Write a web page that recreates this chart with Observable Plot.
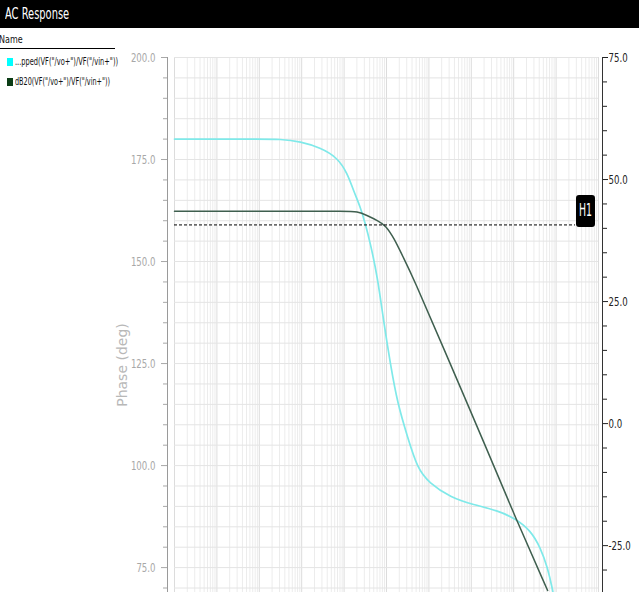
<!DOCTYPE html>
<html><head><meta charset="utf-8">
<script src="https://cdn.jsdelivr.net/npm/d3@7"></script>
<script src="https://cdn.jsdelivr.net/npm/@observablehq/plot@0.6"></script>
<style>
body{margin:0;background:#fff;}
#wrap{position:relative;width:639px;height:592px;overflow:hidden;font-family:"DejaVu Sans",sans-serif;}
#chart{position:absolute;left:0;top:0;}
#title{position:absolute;left:0;top:0;width:639px;height:28px;background:#000;}
#title span{position:absolute;left:5px;top:5px;color:#fff;font-size:15px;line-height:18px;transform-origin:left center;transform:scaleX(0.66);white-space:nowrap;}
#name{position:absolute;left:-1px;top:34px;font-size:10px;line-height:11px;color:#111;transform-origin:left center;transform:scaleX(0.8);}
#rule{position:absolute;left:0;top:48px;width:115px;height:1px;background:#000;}
.leg{position:absolute;left:7px;font-size:10px;line-height:10px;color:#111;white-space:nowrap;}
.leg i{display:inline-block;width:6px;height:8px;vertical-align:-1px;margin-right:2px;}
.leg span{display:inline-block;transform-origin:left center;}
</style>
</head><body>
<div id="wrap">
  <div id="chart"></div>
  <div id="title"><span id="titleText"></span></div>
  <div id="name"></div>
  <div id="rule"></div>
  <div id="legend"></div>
</div>
<script>
// ---- data ----
const titleText = "AC Response";
const legendHeader = "Name";
const seriesNames = ['...pped(VF("/vo+")/VF("/vin+"))', 'dB20(VF("/vo+")/VF("/vin+"))'];
const seriesColors = ["#00ffff", "#0b3d16"];
const yLabel = "Phase (deg)";

// phase curve (left axis, degrees) vs frequency (Hz)
const phaseFreq = [1, 1e1, 1e2, 3.16e2, 9.33e2, 2.75e3, 6.92e3, 1.20e4, 1.66e4, 2.45e4, 3.16e4, 4.17e4, 6.17e4, 8.51e4, 1.23e5, 1.82e5, 3.16e5, 5.37e5, 1.0e6, 3.24e6, 1.12e7, 4.17e7, 1.10e8, 2.51e8, 4.27e8, 6.31e8, 8.32e8, 8.71e8];
const phaseDeg  = [180.0, 180.0, 180.0, 180.0, 179.4, 177.9, 175.5, 171.6, 167.4, 163.2, 159.3, 154.4, 146.1, 135.5, 125.0, 115.2, 106.9, 99.3, 95.8, 92.2, 90.4, 89.0, 87.0, 84.1, 79.9, 75.0, 69.4, 68.1];

// gain curve (right axis, dB) vs frequency (Hz)
const gainFreq = [1, 1e1, 1e2, 1e3, 1e4, 2.09e4, 3.55e4, 6.17e4, 9.55e4, 1.48e5, 2.51e5, 4.37e5, 1.86e6, 2.40e7, 1.10e8, 6.31e8];
const gainDb   = [43.5, 43.5, 43.5, 43.5, 43.5, 43.5, 42.6, 41.6, 40.6, 38.1, 34.0, 29.7, 17.0, -5.5, -19.3, -34.2];

const markerDb = 40.7;
const markerLabel = "H1";

const yDomain = [68.9, 200];     // left axis (deg)
const y2Domain = [-34.6, 75];    // right axis (dB)
const leftMajor = [75, 100, 125, 150, 175, 200];
const rightMajor = [-25, 0, 25, 50, 75];
const xDomain = [1, 1e10];

// ---- derived ----
const leftMinor = d3.range(70, 201, 5).filter(v => !leftMajor.includes(v));
const rightMinor = d3.range(-30, 76, 5).filter(v => !rightMajor.includes(v));
const gridPhase = d3.range(70, 201, 5);
const decades = d3.range(0, 11).map(e => 10 ** e);
const minorFreqs = d3.range(0, 10).flatMap(e => d3.range(2, 10).map(m => m * 10 ** e));
const dbToPhase = d3.scaleLinear().domain(y2Domain).range(yDomain);
const phaseData = phaseFreq.map((f, i) => ({f, v: phaseDeg[i]}));
const gainData = gainFreq.map((f, i) => ({f, v: dbToPhase(gainDb[i])}));
const fmt1 = v => { const r = Math.round(v * 10) / 10; return (r === 0 ? 0 : r).toFixed(1); };

const roundBox = {
  draw(ctx) {
    const w = 19, h = 32, r = 3, x0 = -w / 2, y0 = -h / 2;
    ctx.moveTo(x0 + r, y0);
    ctx.lineTo(x0 + w - r, y0); ctx.arcTo(x0 + w, y0, x0 + w, y0 + r, r);
    ctx.lineTo(x0 + w, y0 + h - r); ctx.arcTo(x0 + w, y0 + h, x0 + w - r, y0 + h, r);
    ctx.lineTo(x0 + r, y0 + h); ctx.arcTo(x0, y0 + h, x0, y0 + h - r, r);
    ctx.lineTo(x0, y0 + r); ctx.arcTo(x0, y0, x0 + r, y0, r);
    ctx.closePath();
  }
};

const chart = Plot.plot({
  width: 639, height: 592,
  marginTop: 57, marginBottom: 0, marginLeft: 167, marginRight: 37,
  style: {fontFamily: "DejaVu Sans", background: "#fff", overflow: "visible"},
  x: {type: "log", domain: xDomain, insetLeft: 7, insetRight: 4, axis: null, label: null},
  y: {domain: yDomain, axis: null, label: null},
  marks: [
    Plot.ruleX(minorFreqs, {stroke: "#ececec", strokeWidth: 1}),
    Plot.ruleX(decades, {stroke: "#dcdcdc", strokeWidth: 1}),
    Plot.ruleY(gridPhase, {stroke: "#e4e4e4", strokeWidth: 1, insetLeft: 7, insetRight: 4}),
    Plot.frame({anchor: "left", stroke: "#9a9a9a"}),
    Plot.frame({anchor: "right", stroke: "#333"}),
    Plot.axisY(leftMajor, {anchor: "left", label: null, tickSize: 6, tickPadding: 6, tickFormat: fmt1, fontSize: 13, color: "#a8a8a8"}),
    Plot.axisY(leftMinor, {anchor: "left", label: null, tickSize: 4, tickFormat: () => "", color: "#a8a8a8"}),
    Plot.axisY(rightMajor.map(dbToPhase), {anchor: "right", label: null, tickSize: 5, tickPadding: 1, tickFormat: d => fmt1(dbToPhase.invert(d)), fontSize: 13, color: "#222"}),
    Plot.axisY(rightMinor.map(dbToPhase), {anchor: "right", label: null, tickSize: 4, tickFormat: () => "", color: "#222"}),
    Plot.text([yLabel], {frameAnchor: "left", textAnchor: "middle", rotate: -90, dx: -45, dy: 40, fontSize: 14, fill: "#b8b8b8"}),
    Plot.line(phaseData, {x: "f", y: "v", stroke: "#7fe9e9", strokeWidth: 1.7, curve: "basis", clip: true}),
    Plot.line(gainData, {x: "f", y: "v", stroke: "#3f5f4f", strokeWidth: 1.5, curve: "basis", clip: true}),
    Plot.ruleY([markerDb], {y: d => dbToPhase(d), stroke: "#000", strokeWidth: 1, strokeDasharray: "3,2", insetLeft: 7, insetRight: 27}),
    Plot.dot([markerDb], {y: d => dbToPhase(d), frameAnchor: "right", dx: -17, dy: -14, symbol: roundBox, fill: "#000", stroke: null}),
    Plot.text([markerLabel], {y: () => dbToPhase(markerDb), frameAnchor: "right", textAnchor: "middle", dx: -17, dy: -14, fill: "#fff", fontSize: 17})
  ]
});
document.getElementById("chart").append(chart);

// horizontally condensed lettering, as in the reference
chart.querySelectorAll("text").forEach(t => {
  const s = t.textContent;
  if (!s || s === yLabel) return;
  const k = s === markerLabel ? 0.55 : 0.66;
  const len = t.getComputedTextLength();
  if (len > 0) {
    t.setAttribute("textLength", (len * k).toFixed(1));
    t.setAttribute("lengthAdjust", "spacingAndGlyphs");
  }
});

document.getElementById("titleText").textContent = titleText;
document.getElementById("name").textContent = legendHeader;
const legend = document.getElementById("legend");
seriesNames.forEach((n, i) => {
  const row = document.createElement("div");
  row.className = "leg";
  row.style.top = (57 + i * 20) + "px";
  const sw = document.createElement("i");
  sw.style.background = seriesColors[i];
  const t = document.createElement("span");
  t.textContent = n;
  row.append(sw, t);
  legend.append(row);
  const w = t.getBoundingClientRect().width;
  const target = i === 0 ? 103 : 95;
  t.style.transform = `scaleX(${(target / w).toFixed(3)})`;
});
</script>
</body></html>
